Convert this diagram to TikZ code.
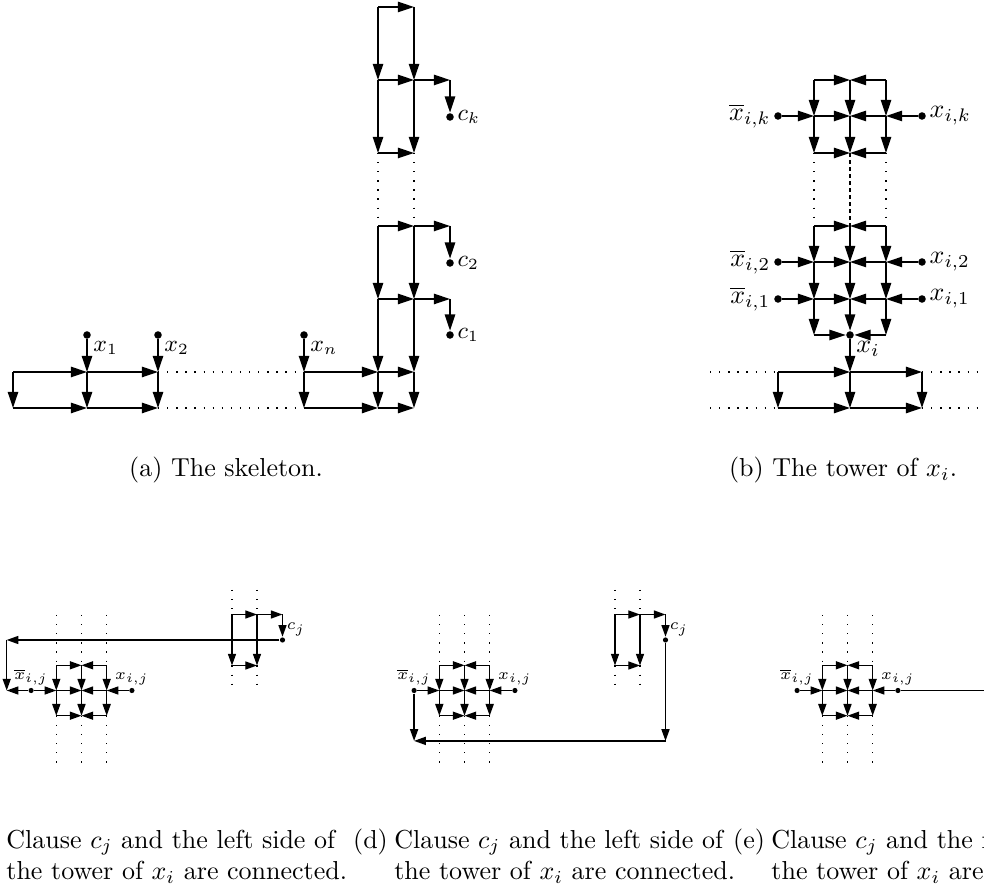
\documentclass[tikz,border=0pt]{standalone}
\usepackage{amsmath}
\usetikzlibrary{arrows.meta}

\begin{document}
\begin{tikzpicture}[x=0.3846pt,y=-0.3846pt,line width=0.5pt,
  >={Triangle[length=6.2pt,width=4pt]},
  sarrow/.style={-{Triangle[length=4.5pt,width=3.1pt]}},
  blackdot/.style={circle,fill,inner sep=0pt,minimum size=2.9pt},
  smalldot/.style={circle,fill,inner sep=0pt,minimum size=2pt},
  dotline/.style={dash pattern=on 0.5pt off 3pt},
  dashline/.style={dash pattern=on 1.5pt off 1.2pt},
  lbl/.style={inner sep=1pt,font=\fontsize{9}{10}\selectfont},
  blbl/.style={inner sep=1pt},
  slbl/.style={inner sep=0.5pt,font=\fontsize{6}{7}\selectfont},
  label distance=0pt]
  \useasboundingbox (0,0) rectangle (984,884);

  % (a) the skeleton
  \node[blackdot,label={[lbl]below right:$x_1$}] (x1) at (87,335) {};
  \node[blackdot,label={[lbl]below right:$x_2$}] (x2) at (158,335) {};
  \node[blackdot,label={[lbl]below right:$x_n$}] (xn) at (304,335) {};
  \node[blackdot,label={[lbl]right:$c_1$}] (c1) at (450,335) {};
  \node[blackdot,label={[lbl]right:$c_2$}] (c2) at (450,263) {};
  \node[blackdot,label={[lbl]right:$c_k$}] (ck) at (450,117) {};
  \coordinate (s0t) at (13,372);
  \coordinate (s0b) at (13,408);
  \coordinate (s1t) at (87,372);
  \coordinate (s1b) at (87,408);
  \coordinate (s2t) at (158,372);
  \coordinate (s2b) at (158,408);
  \coordinate (snt) at (304,372);
  \coordinate (snb) at (304,408);
  \coordinate (a0) at (378,408);
  \coordinate (a1) at (378,372);
  \coordinate (a2) at (378,299);
  \coordinate (a3) at (378,226);
  \coordinate (a4) at (378,153);
  \coordinate (a5) at (378,80);
  \coordinate (a6) at (378,7);
  \coordinate (b0) at (414,408);
  \coordinate (b1) at (414,372);
  \coordinate (b2) at (414,299);
  \coordinate (b3) at (414,226);
  \coordinate (b4) at (414,153);
  \coordinate (b5) at (414,80);
  \coordinate (b6) at (414,7);
  \coordinate (e2) at (450,299);
  \coordinate (e3) at (450,226);
  \coordinate (e5) at (450,80);
  \draw[->] (s0t) -- (s1t);
  \draw[->] (s0t) -- (s0b);
  \draw[->] (s0b) -- (s1b);
  \draw[->] (x1) -- (s1t);
  \draw[->] (s1t) -- (s1b);
  \draw[->] (s1t) -- (s2t);
  \draw[->] (s1b) -- (s2b);
  \draw[->] (x2) -- (s2t);
  \draw[->] (s2t) -- (s2b);
  \draw[dotline] (s2t) -- (snt);
  \draw[dotline] (s2b) -- (snb);
  \draw[->] (xn) -- (snt);
  \draw[->] (snt) -- (snb);
  \draw[->] (snt) -- (a1);
  \draw[->] (snb) -- (a0);
  \draw[->] (a1) -- (b1);
  \draw[->] (a0) -- (b0);
  \draw[->] (a1) -- (a0);
  \draw[->] (b1) -- (b0);
  \draw[->] (a2) -- (a1);
  \draw[->] (b2) -- (b1);
  \draw[->] (a2) -- (b2);
  \draw[->] (b2) -- (e2);
  \draw[->] (e2) -- (c1);
  \draw[->] (a3) -- (a2);
  \draw[->] (b3) -- (b2);
  \draw[->] (a3) -- (b3);
  \draw[->] (b3) -- (e3);
  \draw[->] (e3) -- (c2);
  \draw[dotline] (a4) -- (a3);
  \draw[dotline] (b4) -- (b3);
  \draw[->] (a5) -- (a4);
  \draw[->] (b5) -- (b4);
  \draw[->] (a4) -- (b4);
  \draw[->] (a5) -- (b5);
  \draw[->] (b5) -- (e5);
  \draw[->] (e5) -- (ck);
  \draw[->] (a6) -- (a5);
  \draw[->] (b6) -- (b5);
  \draw[->] (a6) -- (b6);

  % (b) the tower of x_i
  \node[blackdot,label={[blbl]left:$\overline{x}_{i,k}$}] (xbk) at (778,116) {};
  \node[blackdot,label={[blbl]right:$x_{i,k}$}] (xk) at (922,116) {};
  \node[blackdot,label={[blbl]left:$\overline{x}_{i,2}$}] (xb2) at (778,262) {};
  \node[blackdot,label={[blbl]right:$x_{i,2}$}] (xp2) at (922,262) {};
  \node[blackdot,label={[blbl]left:$\overline{x}_{i,1}$}] (xb1) at (778,299) {};
  \node[blackdot,label={[blbl]right:$x_{i,1}$}] (xp1) at (922,299) {};
  \node[blackdot,label={[blbl]below right:$x_i$}] (xi) at (850,335) {};
  \coordinate (tk1) at (814,80);
  \coordinate (tk2) at (850,80);
  \coordinate (tk3) at (886,80);
  \coordinate (mk1) at (814,116);
  \coordinate (mk2) at (850,116);
  \coordinate (mk3) at (886,116);
  \coordinate (bk1) at (814,153);
  \coordinate (bk2) at (850,153);
  \coordinate (bk3) at (886,153);
  \coordinate (u1) at (814,226);
  \coordinate (u2) at (850,226);
  \coordinate (u3) at (886,226);
  \coordinate (v1) at (814,262);
  \coordinate (v2) at (850,262);
  \coordinate (v3) at (886,262);
  \coordinate (w1) at (814,299);
  \coordinate (w2) at (850,299);
  \coordinate (w3) at (886,299);
  \coordinate (z1) at (814,335);
  \coordinate (z3) at (886,335);
  \coordinate (q1) at (778,372);
  \coordinate (q2) at (850,372);
  \coordinate (q3) at (922,372);
  \coordinate (p1) at (778,408);
  \coordinate (p2) at (850,408);
  \coordinate (p3) at (922,408);
  \coordinate (ql) at (710,372);
  \coordinate (qr) at (982,372);
  \coordinate (pl) at (710,408);
  \coordinate (pr) at (982,408);
  \draw[->] (tk1) -- (tk2);
  \draw[->] (tk3) -- (tk2);
  \draw[->] (tk1) -- (mk1);
  \draw[->] (tk2) -- (mk2);
  \draw[->] (tk3) -- (mk3);
  \draw[->] (xbk) -- (mk1);
  \draw[->] (mk1) -- (mk2);
  \draw[->] (mk3) -- (mk2);
  \draw[->] (xk) -- (mk3);
  \draw[->] (mk1) -- (bk1);
  \draw[->] (mk2) -- (bk2);
  \draw[->] (mk3) -- (bk3);
  \draw[->] (bk1) -- (bk2);
  \draw[->] (bk3) -- (bk2);
  \draw[dotline] (bk1) -- (u1);
  \draw[dashline] (bk2) -- (u2);
  \draw[dotline] (bk3) -- (u3);
  \draw[->] (u1) -- (u2);
  \draw[->] (u3) -- (u2);
  \draw[->] (u1) -- (v1);
  \draw[->] (u2) -- (v2);
  \draw[->] (u3) -- (v3);
  \draw[->] (xb2) -- (v1);
  \draw[->] (v1) -- (v2);
  \draw[->] (v3) -- (v2);
  \draw[->] (xp2) -- (v3);
  \draw[->] (v1) -- (w1);
  \draw[->] (v2) -- (w2);
  \draw[->] (v3) -- (w3);
  \draw[->] (xb1) -- (w1);
  \draw[->] (w1) -- (w2);
  \draw[->] (w3) -- (w2);
  \draw[->] (xp1) -- (w3);
  \draw[->] (w1) -- (z1);
  \draw[->] (w2) -- (xi);
  \draw[->] (w3) -- (z3);
  \draw[->] (z1) -- (xi);
  \draw[->] (z3) -- (xi);
  \draw[->] (xi) -- (q2);
  \draw[->] (q1) -- (q2);
  \draw[->] (q2) -- (q3);
  \draw[->] (q1) -- (p1);
  \draw[->] (q2) -- (p2);
  \draw[->] (q3) -- (p3);
  \draw[->] (p1) -- (p2);
  \draw[->] (p2) -- (p3);
  \draw[dotline] (ql) -- (q1);
  \draw[dotline] (q3) -- (qr);
  \draw[dotline] (pl) -- (p1);
  \draw[dotline] (p3) -- (pr);

  % (c), (d), (e) the small towers
  \foreach \p/\s in {c/0,d/383,e/766}{
    \begin{scope}[shift={(\s,0)}]
      \node[smalldot,label={[slbl]above:$\overline{x}_{i,j}$}] (\p xb) at (31.1,690.5) {};
      \node[smalldot,label={[slbl]above:$x_{i,j}$}] (\p x) at (131.9,690.5) {};
      \coordinate (\p t1) at (56.3,665.3);
      \coordinate (\p t2) at (81.5,665.3);
      \coordinate (\p t3) at (106.7,665.3);
      \coordinate (\p m1) at (56.3,690.5);
      \coordinate (\p m2) at (81.5,690.5);
      \coordinate (\p m3) at (106.7,690.5);
      \coordinate (\p b1) at (56.3,715.7);
      \coordinate (\p b2) at (81.5,715.7);
      \coordinate (\p b3) at (106.7,715.7);
      \coordinate (\p u1) at (56.3,615);
      \coordinate (\p u2) at (81.5,615);
      \coordinate (\p u3) at (106.7,615);
      \coordinate (\p l1) at (56.3,764);
      \coordinate (\p l2) at (81.5,764);
      \coordinate (\p l3) at (106.7,764);
      \draw[dotline] (\p u1) -- (\p t1);
      \draw[dotline] (\p u2) -- (\p t2);
      \draw[dotline] (\p u3) -- (\p t3);
      \draw[dotline] (\p b1) -- (\p l1);
      \draw[dotline] (\p b2) -- (\p l2);
      \draw[dotline] (\p b3) -- (\p l3);
      \draw[sarrow] (\p t1) -- (\p t2);
      \draw[sarrow] (\p t3) -- (\p t2);
      \draw[sarrow] (\p t1) -- (\p m1);
      \draw[sarrow] (\p t2) -- (\p m2);
      \draw[sarrow] (\p t3) -- (\p m3);
      \draw[sarrow] (\p xb) -- (\p m1);
      \draw[sarrow] (\p m1) -- (\p m2);
      \draw[sarrow] (\p m3) -- (\p m2);
      \draw[sarrow] (\p x) -- (\p m3);
      \draw[sarrow] (\p m1) -- (\p b1);
      \draw[sarrow] (\p m2) -- (\p b2);
      \draw[sarrow] (\p m3) -- (\p b3);
      \draw[sarrow] (\p b1) -- (\p b2);
      \draw[sarrow] (\p b3) -- (\p b2);
    \end{scope}
  }

  % clause gadgets in (c) and (d)
  \foreach \p/\s in {c/0,d/383}{
    \begin{scope}[shift={(\s,0)}]
      \node[smalldot,label={[slbl]above right:$c_j$}] (\p cj) at (282.5,640) {};
      \coordinate (\p g1) at (232,614.5);
      \coordinate (\p g2) at (257,614.5);
      \coordinate (\p g3) at (282.5,614.5);
      \coordinate (\p g4) at (232,665.5);
      \coordinate (\p g5) at (257,665.5);
      \coordinate (\p h1) at (232,590);
      \coordinate (\p h2) at (257,590);
      \coordinate (\p k1) at (232,685);
      \coordinate (\p k2) at (257,685);
      \draw[dotline] (\p h1) -- (\p g1);
      \draw[dotline] (\p h2) -- (\p g2);
      \draw[dotline] (\p g4) -- (\p k1);
      \draw[dotline] (\p g5) -- (\p k2);
      \draw[sarrow] (\p g1) -- (\p g2);
      \draw[sarrow] (\p g2) -- (\p g3);
      \draw[sarrow] (\p g3) -- (\p cj);
      \draw[sarrow] (\p g1) -- (\p g4);
      \draw[sarrow] (\p g2) -- (\p g5);
      \draw[sarrow] (\p g4) -- (\p g5);
    \end{scope}
  }

  % the connections
  \coordinate (cw1) at (6.7,640);
  \coordinate (cw2) at (6.7,690.5);
  \draw[sarrow] (ccj) -- (cw1);
  \draw[sarrow] (cw1) -- (cw2);
  \draw[sarrow] (cxb) -- (cw2);
  \coordinate (dw1) at (665.5,740.9);
  \coordinate (dw2) at (414.1,740.9);
  \draw[sarrow] (dcj) -- (dw1);
  \draw[sarrow] (dw1) -- (dw2);
  \draw[sarrow] (dxb) -- (dw2);
  \coordinate (ew) at (990,690.5);
  \draw (ex) -- (ew);

  % captions
  \node[anchor=base] (capa) at (226,477) {(a) The skeleton.};
  \node[anchor=base] (capb) at (843,477) {(b) The tower of $x_i$.};
  \node[anchor=base west,inner sep=0pt] (capc) at (-32.5,848)
    {\begin{tabular}[t]{@{}l@{\hspace{2.5pt}}l@{}}(c) & Clause $c_j$ and the left side of\\ & the tower of $x_i$ are connected.\end{tabular}};
  \node[anchor=base west,inner sep=0pt] (capd) at (352.5,848)
    {\begin{tabular}[t]{@{}l@{\hspace{2.5pt}}l@{}}(d) & Clause $c_j$ and the left side of\\ & the tower of $x_i$ are connected.\end{tabular}};
  \node[anchor=base west,inner sep=0pt] (cape) at (732.5,848)
    {\begin{tabular}[t]{@{}l@{\hspace{2.5pt}}l@{}}(e) & Clause $c_j$ and the right side of\\ & the tower of $x_i$ are connected.\end{tabular}};
\end{tikzpicture}
\end{document}
